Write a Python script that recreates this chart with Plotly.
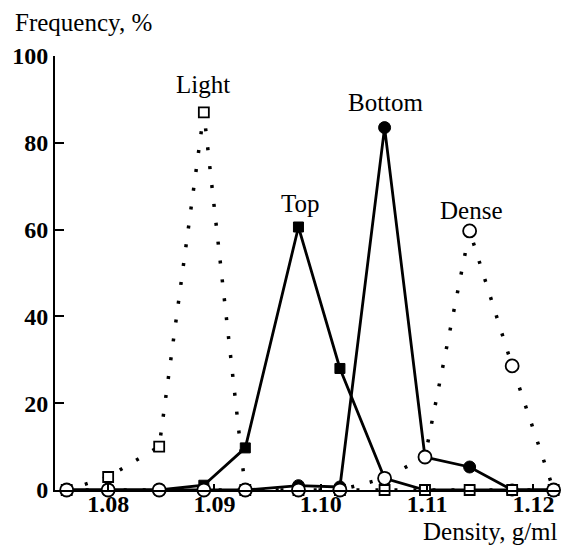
import plotly.graph_objects as go

# Fraction densities (g/ml) and frequencies (%)
density = [1.0761, 1.0800, 1.0848, 1.0890, 1.0929, 1.0979, 1.1018, 1.1060, 1.1098, 1.1140, 1.1180, 1.1219]
light = [0, 3, 10, 87, 0, 0, 0, 0, 0, 0, 0, 0]
dense = [0, 0, 0, 0, 0, 0, 0, 2.7, 7.6, 59.7, 28.6, 0]
top = [0, 0, 0, 1.1, 9.7, 60.6, 28.0, 2.7, 0, 0, 0, 0]
bottom = [0, 0, 0, 0, 0, 1.0, 0.7, 83.5, 7.6, 5.3, 0, 0]

x_ticks = [1.08, 1.09, 1.10, 1.11, 1.12]
x_ticktext = ["1.08", "1.09", "1.10", "1.11", "1.12"]
y_ticks = [0, 20, 40, 60, 80, 100]

FONT = "Liberation Serif"
DOT = "3px,16px"

fig = go.Figure()

# lines first
fig.add_trace(go.Scatter(x=density, y=light, mode="lines",
                         line=dict(color="black", width=3.5, dash=DOT), cliponaxis=False))
fig.add_trace(go.Scatter(x=density, y=dense, mode="lines",
                         line=dict(color="black", width=3.5, dash=DOT), cliponaxis=False))
fig.add_trace(go.Scatter(x=density, y=top, mode="lines",
                         line=dict(color="black", width=2.8), cliponaxis=False))
fig.add_trace(go.Scatter(x=density, y=bottom, mode="lines",
                         line=dict(color="black", width=2.8), cliponaxis=False))

# markers
fig.add_trace(go.Scatter(x=density, y=top, mode="markers",
                         marker=dict(symbol="square", size=10, color="black",
                                     line=dict(color="black", width=1)), cliponaxis=False))
fig.add_trace(go.Scatter(x=density, y=bottom, mode="markers",
                         marker=dict(symbol="circle", size=12, color="black",
                                     line=dict(color="black", width=1)), cliponaxis=False))
fig.add_trace(go.Scatter(x=density, y=light, mode="markers",
                         marker=dict(symbol="square", size=10, color="white",
                                     line=dict(color="black", width=1.8)), cliponaxis=False))
fig.add_trace(go.Scatter(x=density, y=dense, mode="markers",
                         marker=dict(symbol="circle", size=13, color="white",
                                     line=dict(color="black", width=1.8)), cliponaxis=False))

labels = [("Light", 1.0889, 93.5), ("Top", 1.0981, 66.1),
          ("Bottom", 1.1061, 89.2), ("Dense", 1.1141, 64.5)]
for txt, lx, ly in labels:
    fig.add_annotation(x=lx, y=ly, xref="x", yref="y", text=txt, showarrow=False,
                       font=dict(family=FONT, size=25, color="black"))

fig.add_annotation(x=(83 - 55) / 505, y=(490 - 22) / 434, xref="paper", yref="paper",
                   text="Frequency, %", showarrow=False, xanchor="center", yanchor="middle",
                   font=dict(family=FONT, size=25, color="black"))
fig.add_annotation(x=1.0, y=(490 - 531) / 434, xref="paper", yref="paper",
                   text="Density, g/ml", showarrow=False, xanchor="right", yanchor="middle",
                   font=dict(family=FONT, size=25, color="black"))

fig.update_layout(
    width=565, height=546,
    margin=dict(l=55, r=5, t=56, b=56),
    paper_bgcolor="white", plot_bgcolor="white",
    showlegend=False,
    xaxis=dict(range=[1.075, 1.1225], tickvals=x_ticks, ticktext=x_ticktext,
               ticks="inside", ticklen=6, tickwidth=1.5, tickcolor="black",
               showline=True, linecolor="black", linewidth=2,
               showgrid=False, zeroline=False, ticklabelstandoff=-9,
               tickfont=dict(family=FONT, size=24, color="black", weight="bold")),
    yaxis=dict(range=[0, 100], tickvals=y_ticks,
               ticks="inside", ticklen=9, tickwidth=2, tickcolor="black",
               showline=True, linecolor="black", linewidth=2,
               showgrid=False, zeroline=False,
               tickfont=dict(family=FONT, size=24, color="black", weight="bold")),
)

fig.write_html("out.html")
